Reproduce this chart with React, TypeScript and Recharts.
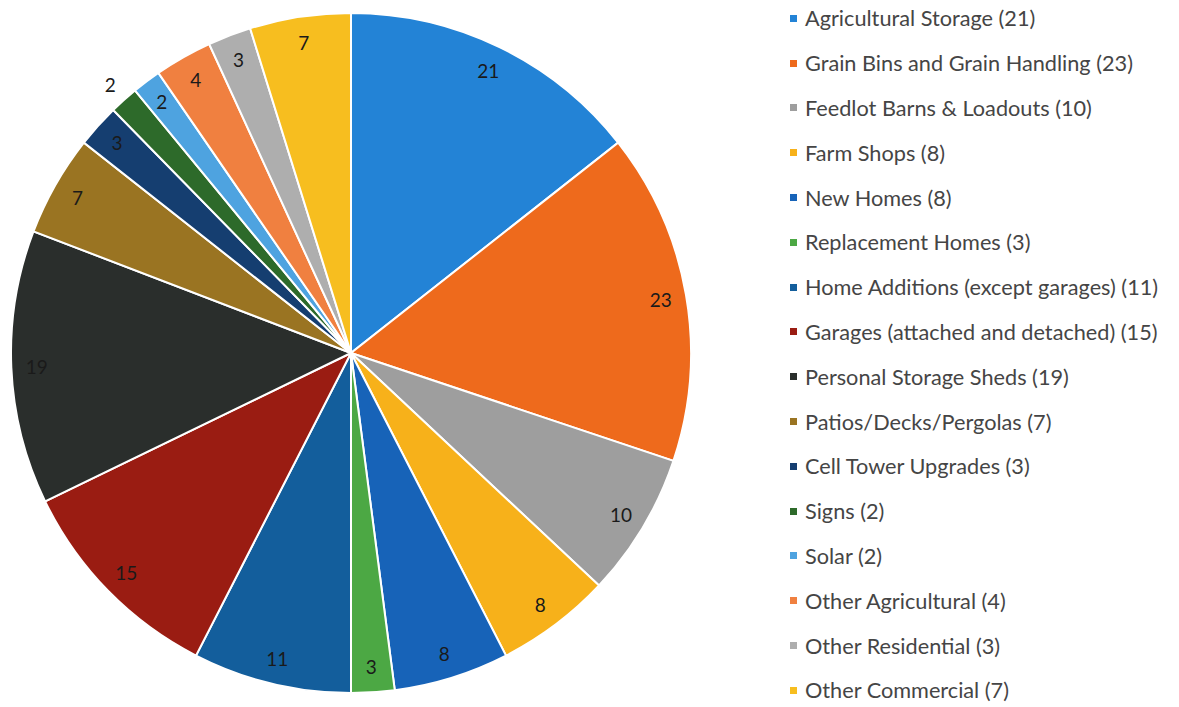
import { PieChart, Pie, Cell, Legend } from "recharts";

const categories = [
  "Agricultural Storage",
  "Grain Bins and Grain Handling",
  "Feedlot Barns & Loadouts",
  "Farm Shops",
  "New Homes",
  "Replacement Homes",
  "Home Additions (except garages)",
  "Garages (attached and detached)",
  "Personal Storage Sheds",
  "Patios/Decks/Pergolas",
  "Cell Tower Upgrades",
  "Signs",
  "Solar",
  "Other Agricultural",
  "Other Residential",
  "Other Commercial",
];

const counts = [21, 23, 10, 8, 8, 3, 11, 15, 19, 7, 3, 2, 2, 4, 3, 7];

const colors = [
  "#2383D6",
  "#EE6A1C",
  "#9E9E9E",
  "#F7B11A",
  "#1763B8",
  "#4CA844",
  "#135E9C",
  "#9A1C12",
  "#2A2E2C",
  "#9A7422",
  "#153E70",
  "#2D6A2A",
  "#4EA3E0",
  "#F08040",
  "#AEAEAE",
  "#F7BE1F",
];

const data = categories.map((name, i) => ({
  name,
  value: counts[i],
  legend: `${name} (${counts[i]})`,
}));

const RAD = Math.PI / 180;

const renderLabel = (props: any) => {
  const { cx, cy, midAngle, outerRadius, value, name } = props;
  const r = name === "Signs" ? outerRadius * 1.06 : outerRadius * 0.925;
  const x = cx + r * Math.cos(-midAngle * RAD);
  const y = cy + r * Math.sin(-midAngle * RAD);
  return (
    <text
      x={x}
      y={y}
      fill="#1a1a1a"
      fontSize={19}
      fontFamily="Lato, sans-serif"
      textAnchor="middle"
      dominantBaseline="central"
    >
      {value}
    </text>
  );
};

const renderLegend = () => (
  <div>
    {data.map((d, i) => (
      <div
        key={d.name}
        style={{
          height: 44.8,
          display: "flex",
          alignItems: "center",
          fontFamily: "Lato, sans-serif",
          fontSize: 21.7,
          color: "#454545",
          whiteSpace: "nowrap",
        }}
      >
        <span
          style={{
            width: 7,
            height: 7,
            background: colors[i],
            marginRight: 8,
            display: "inline-block",
          }}
        />
        {d.legend}
      </div>
    ))}
  </div>
);

export default function App() {
  return (
    <div style={{ position: "absolute", top: 0, left: 0 }}>
      <PieChart
        width={1179}
        height={707}
        margin={{ top: 0, right: 0, bottom: 0, left: 0 }}
      >
        <Pie
          data={data}
          dataKey="value"
          nameKey="name"
          cx={351}
          cy={353}
          outerRadius={340}
          startAngle={90}
          endAngle={-270}
          stroke="#ffffff"
          strokeWidth={2}
          label={renderLabel}
          labelLine={false}
          isAnimationActive={false}
        >
          {data.map((d, i) => (
            <Cell key={d.name} fill={colors[i]} />
          ))}
        </Pie>
        <Legend
          content={renderLegend}
          wrapperStyle={{ left: 790, top: -4, width: 389 }}
        />
      </PieChart>
    </div>
  );
}
